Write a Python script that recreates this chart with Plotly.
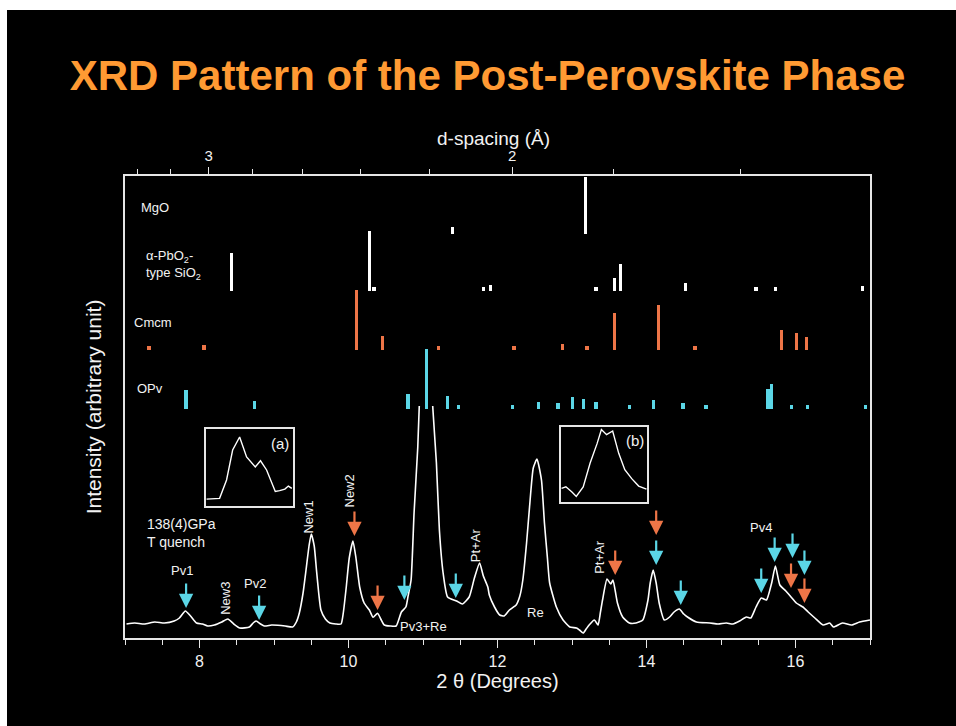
import numpy as np
import plotly.graph_objects as go

# ---------------- data ----------------
# main XRD pattern: 2theta (deg) and intensity (arbitrary units); None = off-scale apex
two_theta = [7.02, 7.13, 7.26, 7.40, 7.53, 7.66, 7.73, 7.81, 7.88, 7.96, 8.04, 8.11, 8.20, 8.30,
             8.38, 8.46, 8.54, 8.67, 8.72, 8.76, 8.82, 8.87, 8.97, 9.05, 9.15, 9.25, 9.30, 9.34,
             9.39, 9.43, 9.47, 9.50, 9.54, 9.57, 9.60, 9.63, 9.69, 9.75, 9.83, 9.90, 9.93, 9.97,
             10.01, 10.06, 10.10, 10.15, 10.21, 10.28, 10.33, 10.39, 10.44, 10.48, 10.56, 10.64,
             10.71, 10.77, 10.80, 10.84, 10.88, 10.93, 10.95, 11.04, 11.13, 11.18, 11.22, 11.27,
             11.33, 11.45, 11.53, 11.62, 11.69, 11.76, 11.81, 11.87, 11.89, 11.96, 12.03, 12.09,
             12.16, 12.25, 12.30, 12.34, 12.39, 12.43, 12.48, 12.53, 12.59, 12.63, 12.67, 12.70,
             12.79, 12.88, 12.97, 13.06, 13.10, 13.15, 13.19, 13.23, 13.30, 13.35, 13.38, 13.41,
             13.47, 13.52, 13.55, 13.61, 13.68, 13.77, 13.86, 13.95, 14.02, 14.05, 14.09, 14.13,
             14.17, 14.24, 14.31, 14.37, 14.44, 14.50, 14.55, 14.67, 14.85, 14.96, 15.07, 15.16,
             15.25, 15.34, 15.40, 15.47, 15.54, 15.61, 15.68, 15.73, 15.79, 15.87, 15.94, 16.01,
             16.10, 16.17, 16.26, 16.37, 16.46, 16.51, 16.63, 16.75, 16.86, 17.00]
intensity = [14, 15, 14, 16, 15, 17, 20, 27, 22, 15, 14, 12, 13, 16,
             19, 14, 10, 11, 15, 17, 14, 12, 13, 12.7, 12, 11, 16, 25,
             45, 68, 92, 104, 92, 68, 45, 28, 19, 15, 14, 14, 25, 51,
             80, 97, 80, 51, 35, 28, 20.7, 24.7, 18, 13, 12, 12,
             26, 31, 42, 58, 125, 191, 232, None, 232, 175, 108, 65,
             41, 37, 34, 41, 60, 75, 62, 51, 43, 31, 23, 22,
             28, 33, 42, 58, 95, 131, 170, 179, 158, 115, 80, 55,
             31, 18, 11, 10, 8, 5, 9, 13, 18, 13, 25, 38,
             59, 54, 58, 35, 21, 15, 15, 18, 38, 55, 68, 55,
             35, 18, 21, 26, 29, 24, 21, 16, 15, 14, 15, 14,
             17, 21, 20, 31, 40, 38, 55, 72, 53, 47, 41, 35,
             31, 26, 20, 13, 15, 11, 15, 13, 16, 18]

# reference reflection positions (2theta) and relative bar heights
mgo_pos = [11.40, 13.18]
mgo_h = [7, 57]
pbo2_pos = [8.43, 10.28, 10.34, 11.81, 11.91, 13.32, 13.57, 13.65, 14.52, 15.47, 15.73, 16.90]
pbo2_h = [38, 60, 4, 4, 6, 4, 13, 27, 8, 4, 4, 5]
cmcm_pos = [7.32, 8.06, 10.11, 10.46, 11.21, 12.22, 12.87, 13.20, 13.57, 14.16, 14.65, 15.81, 16.01, 16.15]
cmcm_h = [3, 5, 60, 14, 4, 4, 6, 3, 37, 45, 4, 20, 17, 13]
opv_pos = [7.82, 8.74, 10.80, 11.05, 11.33, 11.48, 12.20, 12.55, 12.81, 13.01, 13.15, 13.32, 13.77,
           14.09, 14.49, 14.80, 15.63, 15.68, 15.95, 16.16, 16.94]
opv_h = [19, 8, 15, 60, 13, 4, 4, 7, 6, 12, 10, 7, 4, 9, 6, 4, 20, 25, 4, 4, 4]
row_names = ["MgO", "α-PbO<sub>2</sub>-<br>type SiO<sub>2</sub>", "Cmcm", "OPv"]

# arrows marking peaks: (2theta, intensity at arrow tip)
cyan_arrow_x = [7.82, 8.80, 10.75, 11.44, 14.13, 14.46, 15.54, 15.72, 15.96, 16.12]
cyan_arrow_y = [30, 18, 38, 40, 73, 33, 45, 76, 80, 63]
orange_arrow_x = [10.08, 10.39, 13.58, 14.13, 15.94, 16.12]
orange_arrow_y = [102, 28, 63, 103, 50, 35]

# peak labels
peak_labels = ["Pv1", "New3", "Pv2", "New1", "New2", "Pv3+Re", "Pt+Ar", "Re", "Pt+Ar", "Pv4"]

# insets (normalised coordinates)
inset_a_x = [0.01, 0.16, 0.24, 0.31, 0.39, 0.47, 0.57, 0.63, 0.70, 0.80, 0.85, 0.91, 0.95, 0.99]
inset_a_y = [0.09, 0.10, 0.34, 0.73, 0.90, 0.64, 0.51, 0.59, 0.47, 0.19, 0.20, 0.22, 0.26, 0.23]
inset_b_x = [0.01, 0.06, 0.13, 0.18, 0.26, 0.34, 0.42, 0.47, 0.53, 0.60, 0.67, 0.74, 0.82, 0.90, 0.99]
inset_b_y = [0.18, 0.20, 0.13, 0.07, 0.20, 0.52, 0.78, 0.97, 0.90, 0.95, 0.65, 0.43, 0.31, 0.21, 0.17]

# top axis: d-spacing ticks, X-ray wavelength (Å)
wavelength = 0.425
d_major = [3.0, 2.0]
d_major_text = ["3", "2"]
d_minor = [3.4, 3.2, 2.8, 2.6, 2.4, 2.2, 1.8, 1.6]

# ---------------- styles ----------------
FONT = "Liberation Sans, Arial, sans-serif"
TXT = "#f2f2f2"
LINE = "#e6e6e6"
WHITE = "#ffffff"
ORANGE = "#ee7547"
CYAN = "#5bd6e6"
TITLE_ORANGE = "#ff9a33"


def d_to_tt(d):
    return [2 * np.degrees(np.arcsin(wavelength / (2 * v))) for v in d]


fig = go.Figure()

# reference bars
rows = [(mgo_pos, mgo_h, 404, WHITE), (pbo2_pos, pbo2_h, 347, WHITE),
        (cmcm_pos, cmcm_h, 288, ORANGE), (opv_pos, opv_h, 229.5, CYAN)]
for pos, h, base, col in rows:
    fig.add_trace(go.Bar(x=pos, y=[max(v, 4) for v in h], base=base, width=0.045,
                         marker=dict(color=col, line=dict(width=0)), showlegend=False,
                         hoverinfo="skip"))

# pattern
fig.add_trace(go.Scatter(x=two_theta, y=intensity, mode="lines",
                         line=dict(color=WHITE, width=1.6, shape="spline", smoothing=0.5),
                         connectgaps=False, showlegend=False))

# insets
fig.add_trace(go.Scatter(x=inset_a_x, y=inset_a_y, xaxis="x3", yaxis="y3", mode="lines",
                         line=dict(color=WHITE, width=1.4), showlegend=False))
fig.add_trace(go.Scatter(x=inset_b_x, y=inset_b_y, xaxis="x4", yaxis="y4", mode="lines",
                         line=dict(color=WHITE, width=1.4), showlegend=False))

ann = []
# row labels
row_lab_pos = [(7.19, 431), (7.26, 373), (7.09, 316), (7.13, 250)]
for name, (lx, ly) in zip(row_names, row_lab_pos):
    ann.append(dict(x=lx, y=ly, text=name, showarrow=False, xanchor="left", yanchor="middle",
                    align="left", font=dict(family=FONT, size=13, color=TXT)))

# peak labels
peak_lab_pos = [(7.77, 68, 0), (8.34, 40, -90), (8.75, 55, 0), (9.45, 121, -90), (10.00, 147, -90),
                (11.01, 12, 0), (11.70, 93, -90), (12.51, 26, 0), (13.36, 81, -90), (15.54, 111, 0)]
for t, (lx, ly, ang) in zip(peak_labels, peak_lab_pos):
    ann.append(dict(x=lx, y=ly, text=t, showarrow=False, textangle=ang,
                    font=dict(family=FONT, size=13, color=TXT)))

ann.append(dict(x=7.27, y=105, text="138(4)GPa<br>T quench", showarrow=False, xanchor="left",
                align="left", font=dict(family=FONT, size=14, color=TXT)))

# arrows
for xs, ys, col in [(cyan_arrow_x, cyan_arrow_y, CYAN), (orange_arrow_x, orange_arrow_y, ORANGE)]:
    for ax_, ay_ in zip(xs, ys):
        ann.append(dict(x=ax_, y=ay_, ax=0, ay=-26, text="", showarrow=True, arrowhead=2,
                        arrowsize=1.3, arrowwidth=2.2, arrowcolor=col, standoff=0))

# inset tags
ann.append(dict(x=0.855, y=0.81, xref="x3", yref="y3", text="(a)", showarrow=False,
                font=dict(family=FONT, size=15, color=TXT)))
ann.append(dict(x=0.858, y=0.816, xref="x4", yref="y4", text="(b)", showarrow=False,
                font=dict(family=FONT, size=15, color=TXT)))

# top axis title
ann.append(dict(x=(493 - 125) / 745, y=(638 - 138) / 462, xref="paper", yref="paper",
                text="d-spacing (Å)", showarrow=False, xanchor="center", yanchor="middle",
                font=dict(family=FONT, size=19, color=TXT)))

tt_major = d_to_tt(d_major)
tt_minor = d_to_tt(d_minor)

inset_axis = dict(showline=True, mirror=True, linecolor=LINE, linewidth=1.5, showticklabels=False,
                  ticks="", showgrid=False, zeroline=False, range=[0, 1], fixedrange=True)

fig.update_layout(
    width=956, height=726,
    margin=dict(l=125, r=86, t=176, b=88),
    paper_bgcolor="white", plot_bgcolor="rgba(0,0,0,0)",
    barmode="overlay", bargap=0,
    font=dict(family=FONT, color=TXT),
    title=dict(text="<b>XRD Pattern of the Post-Perovskite Phase</b>", x=0.51, xanchor="center",
               y=1 - 75 / 726, yanchor="middle", yref="container",
               font=dict(family=FONT, size=42, color=TITLE_ORANGE)),
    xaxis=dict(range=[7, 17], showline=True, linecolor=LINE, linewidth=1.5, mirror=True,
               tickmode="linear", tick0=8, dtick=2, ticks="outside", ticklen=8, tickwidth=1.3,
               tickcolor=LINE, showgrid=False, zeroline=False,
               minor=dict(dtick=0.5, tick0=7, ticks="outside", ticklen=5, tickwidth=1.2, tickcolor=LINE),
               tickfont=dict(size=16, color=TXT),
               title=dict(text="2 θ (Degrees)", font=dict(size=20, color=TXT), standoff=3)),
    xaxis2=dict(range=[7, 17], overlaying="x", side="top", anchor="y", showline=True, linecolor=LINE,
                linewidth=1.5, tickmode="array", tickvals=tt_major, ticktext=d_major_text,
                ticks="outside", ticklen=7, tickwidth=1.3, tickcolor=LINE, showgrid=False,
                zeroline=False,
                minor=dict(tickmode="array", tickvals=tt_minor, ticks="outside", ticklen=5,
                           tickwidth=1.2, tickcolor=LINE),
                tickfont=dict(size=15, color=TXT)),
    yaxis=dict(range=[0, 462], showline=True, linecolor=LINE, linewidth=1.5, mirror=True,
               showticklabels=False, ticks="", showgrid=False, zeroline=False,
               title=dict(text="Intensity (arbitrary unit)", font=dict(size=21, color=TXT), standoff=16)),
    xaxis3=dict(domain=[0.1083, 0.2251], anchor="y3", **inset_axis),
    yaxis3=dict(domain=[0.2857, 0.4517], anchor="x3", **inset_axis),
    xaxis4=dict(domain=[0.5848, 0.7011], anchor="y4", **inset_axis),
    yaxis4=dict(domain=[0.2950, 0.4561], anchor="x4", **inset_axis),
    annotations=ann,
    shapes=[dict(type="rect", xref="paper", yref="paper", x0=(7 - 125) / 745, x1=1.2,
                 y0=-0.3, y1=(638 - 10) / 462, fillcolor="black", line=dict(width=0), layer="below")],
)

# top axis carries an empty trace so it renders
fig.add_trace(go.Scatter(x=[7, 17], y=[None, None], xaxis="x2", yaxis="y", showlegend=False,
                         hoverinfo="skip"))

fig.write_html("out.html")
